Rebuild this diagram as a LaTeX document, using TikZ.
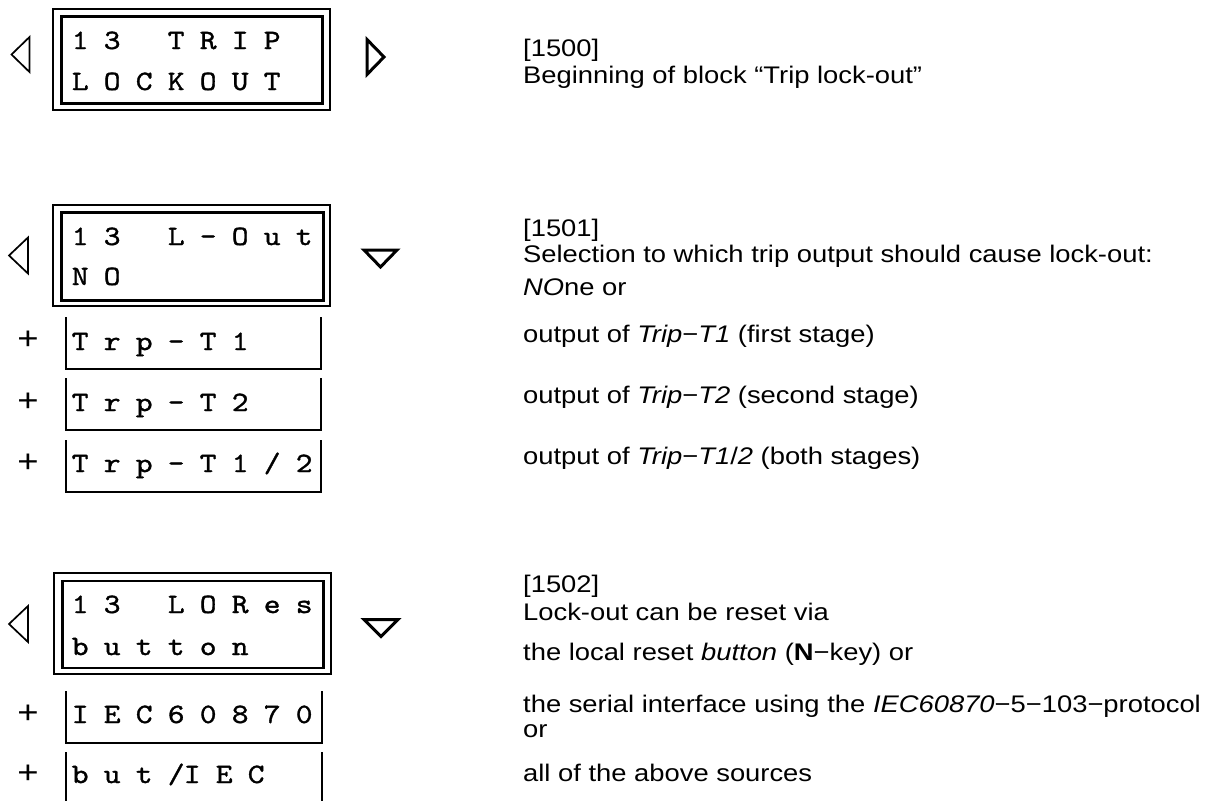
\documentclass[tikz,border=0pt]{standalone}
\usepackage{fontspec}
\setmainfont{Liberation Sans}[FakeStretch=1.14]
\newfontfamily\lcdfont{lmmono10-regular.otf}[FakeBold=1.2, FakeStretch=1.14]
\ExplSyntaxOn
\NewDocumentCommand\lcdstr{m}{\tl_map_inline:nn{#1}{\makebox[16pt][c]{##1}}}
\ExplSyntaxOff
\begin{document}
\begin{tikzpicture}[x=1pt,y=-1pt,
  lcdouter/.style={draw, line width=1.5pt, minimum width=277pt, minimum height=101pt, inner sep=0pt, anchor=north west},
  lcdinner/.style={draw, line width=2.5pt, minimum width=261pt, minimum height=87pt, inner sep=0pt, anchor=north west},
  lcdtext/.style={anchor=base west, inner sep=0pt, font=\lcdfont\fontsize{28}{30}\selectfont},
  desc/.style={anchor=base west, inner sep=0pt, font=\fontsize{24}{28}\selectfont},
  plussign/.style={anchor=base, inner sep=0pt, font=\fontsize{32}{34}\selectfont},
  optline/.style={line width=2pt},
  lefttri/.style={line width=1.7pt, line join=miter},
  navtri/.style={line width=3pt, line join=miter}]
\useasboundingbox (0,0) rectangle (1221,801);

% ---------- block 1 ----------
\node[lcdouter] (o1) at (52,8) {};
\node[lcdinner] (i1) at (60,15) {};
\node[lcdtext] (t1a) at (72,49) {\lcdstr{1~3~~~T~R~I~P}};
\node[lcdtext] (t1b) at (72,90) {\lcdstr{L~O~C~K~O~U~T}};
\draw[lefttri] (29.5,37) -- (11.5,54.5) -- (29.5,72) -- cycle;
\draw[navtri] (367,39.5) -- (384,57) -- (367,74.5) -- cycle;
\node[desc] (d1a) at (523,56) {[1500]};
\node[desc] (d1b) at (523,83) {Beginning of block “Trip lock-out”};

% ---------- block 2 ----------
\node[lcdouter] (o2) at (52,204) {};
\node[lcdinner, minimum width=262pt, minimum height=88pt] (i2) at (60,211) {};
\node[lcdtext] (t2a) at (72,245) {\lcdstr{1~3~~~L~-~O~u~t}};
\node[lcdtext] (t2b) at (72,285) {\lcdstr{N~O}};
\draw[lefttri] (28,237.5) -- (9,255.5) -- (28,273.5) -- cycle;
\draw[navtri] (364,250) -- (397,250) -- (380.5,267) -- cycle;

\draw[optline] (66,317) -- (66,369) -- (321,369) -- (321,317);
\draw[optline] (66,378) -- (66,430) -- (321,430) -- (321,378);
\draw[optline] (66,440) -- (66,492) -- (321,492) -- (321,440);
\node[plussign] (p21) at (28,349) {+};
\node[plussign] (p22) at (28,411) {+};
\node[plussign] (p23) at (28,472) {+};
\node[lcdtext] (o21) at (72,350) {\lcdstr{T~r~p~-~T~1}};
\node[lcdtext] (o22) at (72,411) {\lcdstr{T~r~p~-~T~2}};
\node[lcdtext] (o23) at (72,472) {\lcdstr{T~r~p~-~T~1~/~2}};

\node[desc] (d2a) at (523,236) {[1501]};
\node[desc] (d2b) at (523,262) {Selection to which trip output should cause lock-out:};
\node[desc] (d2c) at (523,295) {\textit{NO}ne or};
\node[desc] (d2d) at (523,342) {output of \textit{Trip}−\textit{T1} (first stage)};
\node[desc] (d2e) at (523,403) {output of \textit{Trip}−\textit{T2} (second stage)};
\node[desc] (d2f) at (523,464) {output of \textit{Trip}−\textit{T1}/\textit{2} (both stages)};

% ---------- block 3 ----------
\node[lcdouter] (o3) at (53,572) {};
\node[lcdinner] (i3) at (61,579.5) {};
\node[lcdtext] (t3a) at (72,613) {\lcdstr{1~3~~~L~O~R~e~s}};
\node[lcdtext] (t3b) at (72,655) {\lcdstr{b~u~t~t~o~n}};
\draw[lefttri] (28,606) -- (9,624) -- (28,642) -- cycle;
\draw[navtri] (364,619.5) -- (398,619.5) -- (381,636.5) -- cycle;

\draw[optline] (66,691) -- (66,743) -- (322,743) -- (322,691);
\draw[optline] (66,752) -- (66,801);
\draw[optline] (322,752) -- (322,801);
\node[plussign] (p31) at (28,723) {+};
\node[plussign] (p32) at (28,783) {+};
\node[lcdtext] (o31) at (72,723) {\lcdstr{I~E~C~6~0~8~7~0}};
\node[lcdtext] (o32) at (72,783) {\lcdstr{b~u~t~/I~E~C}};

\node[desc] (d3a) at (523,592) {[1502]};
\node[desc] (d3b) at (523,620) {Lock-out can be reset via};
\node[desc] (d3c) at (523,660) {the local reset \textit{button} (\textbf{N}−key) or};
\node[desc] (d3d) at (523,712) {the serial interface using the \textit{IEC60870}−5−103−protocol};
\node[desc] (d3e) at (523,737) {or};
\node[desc] (d3f) at (523,781) {all of the above sources};
\end{tikzpicture}
\end{document}
